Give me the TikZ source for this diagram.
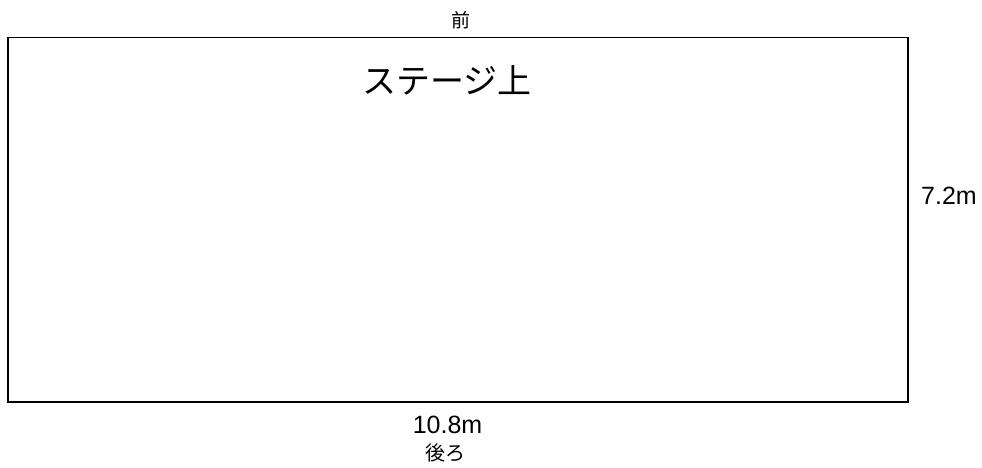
\documentclass[tikz,border=0pt]{standalone}
\usepackage{fontspec}
\setmainfont{Noto Sans CJK JP}
\newfontfamily\latinfont{Liberation Sans}
\tikzset{lbl/.style={inner sep=0pt, font=#1}, lbl/.default=\fontsize{19}{21}\selectfont}
\begin{document}
\begin{tikzpicture}[x=1pt,y=-1pt]
\useasboundingbox (0,0) rectangle (982,468);
\node[draw, line width=1.5pt, minimum width=900pt, minimum height=364pt, inner sep=0pt, anchor=north west] (stage) at (7,37) {};
\node[lbl] (front) at (461,20) {前};
\node[lbl=\fontsize{34}{38}\selectfont] (title) at (447,80.5) {ステージ上};
\node[lbl=\latinfont\fontsize{25}{28}\selectfont] (h) at (949,196) {7.2m};
\node[lbl=\latinfont\fontsize{25}{28}\selectfont] (w) at (447.5,425) {10.8m};
\node[lbl=\fontsize{20}{22}\selectfont] (back) at (445,452.5) {後ろ};
\end{tikzpicture}
\end{document}
